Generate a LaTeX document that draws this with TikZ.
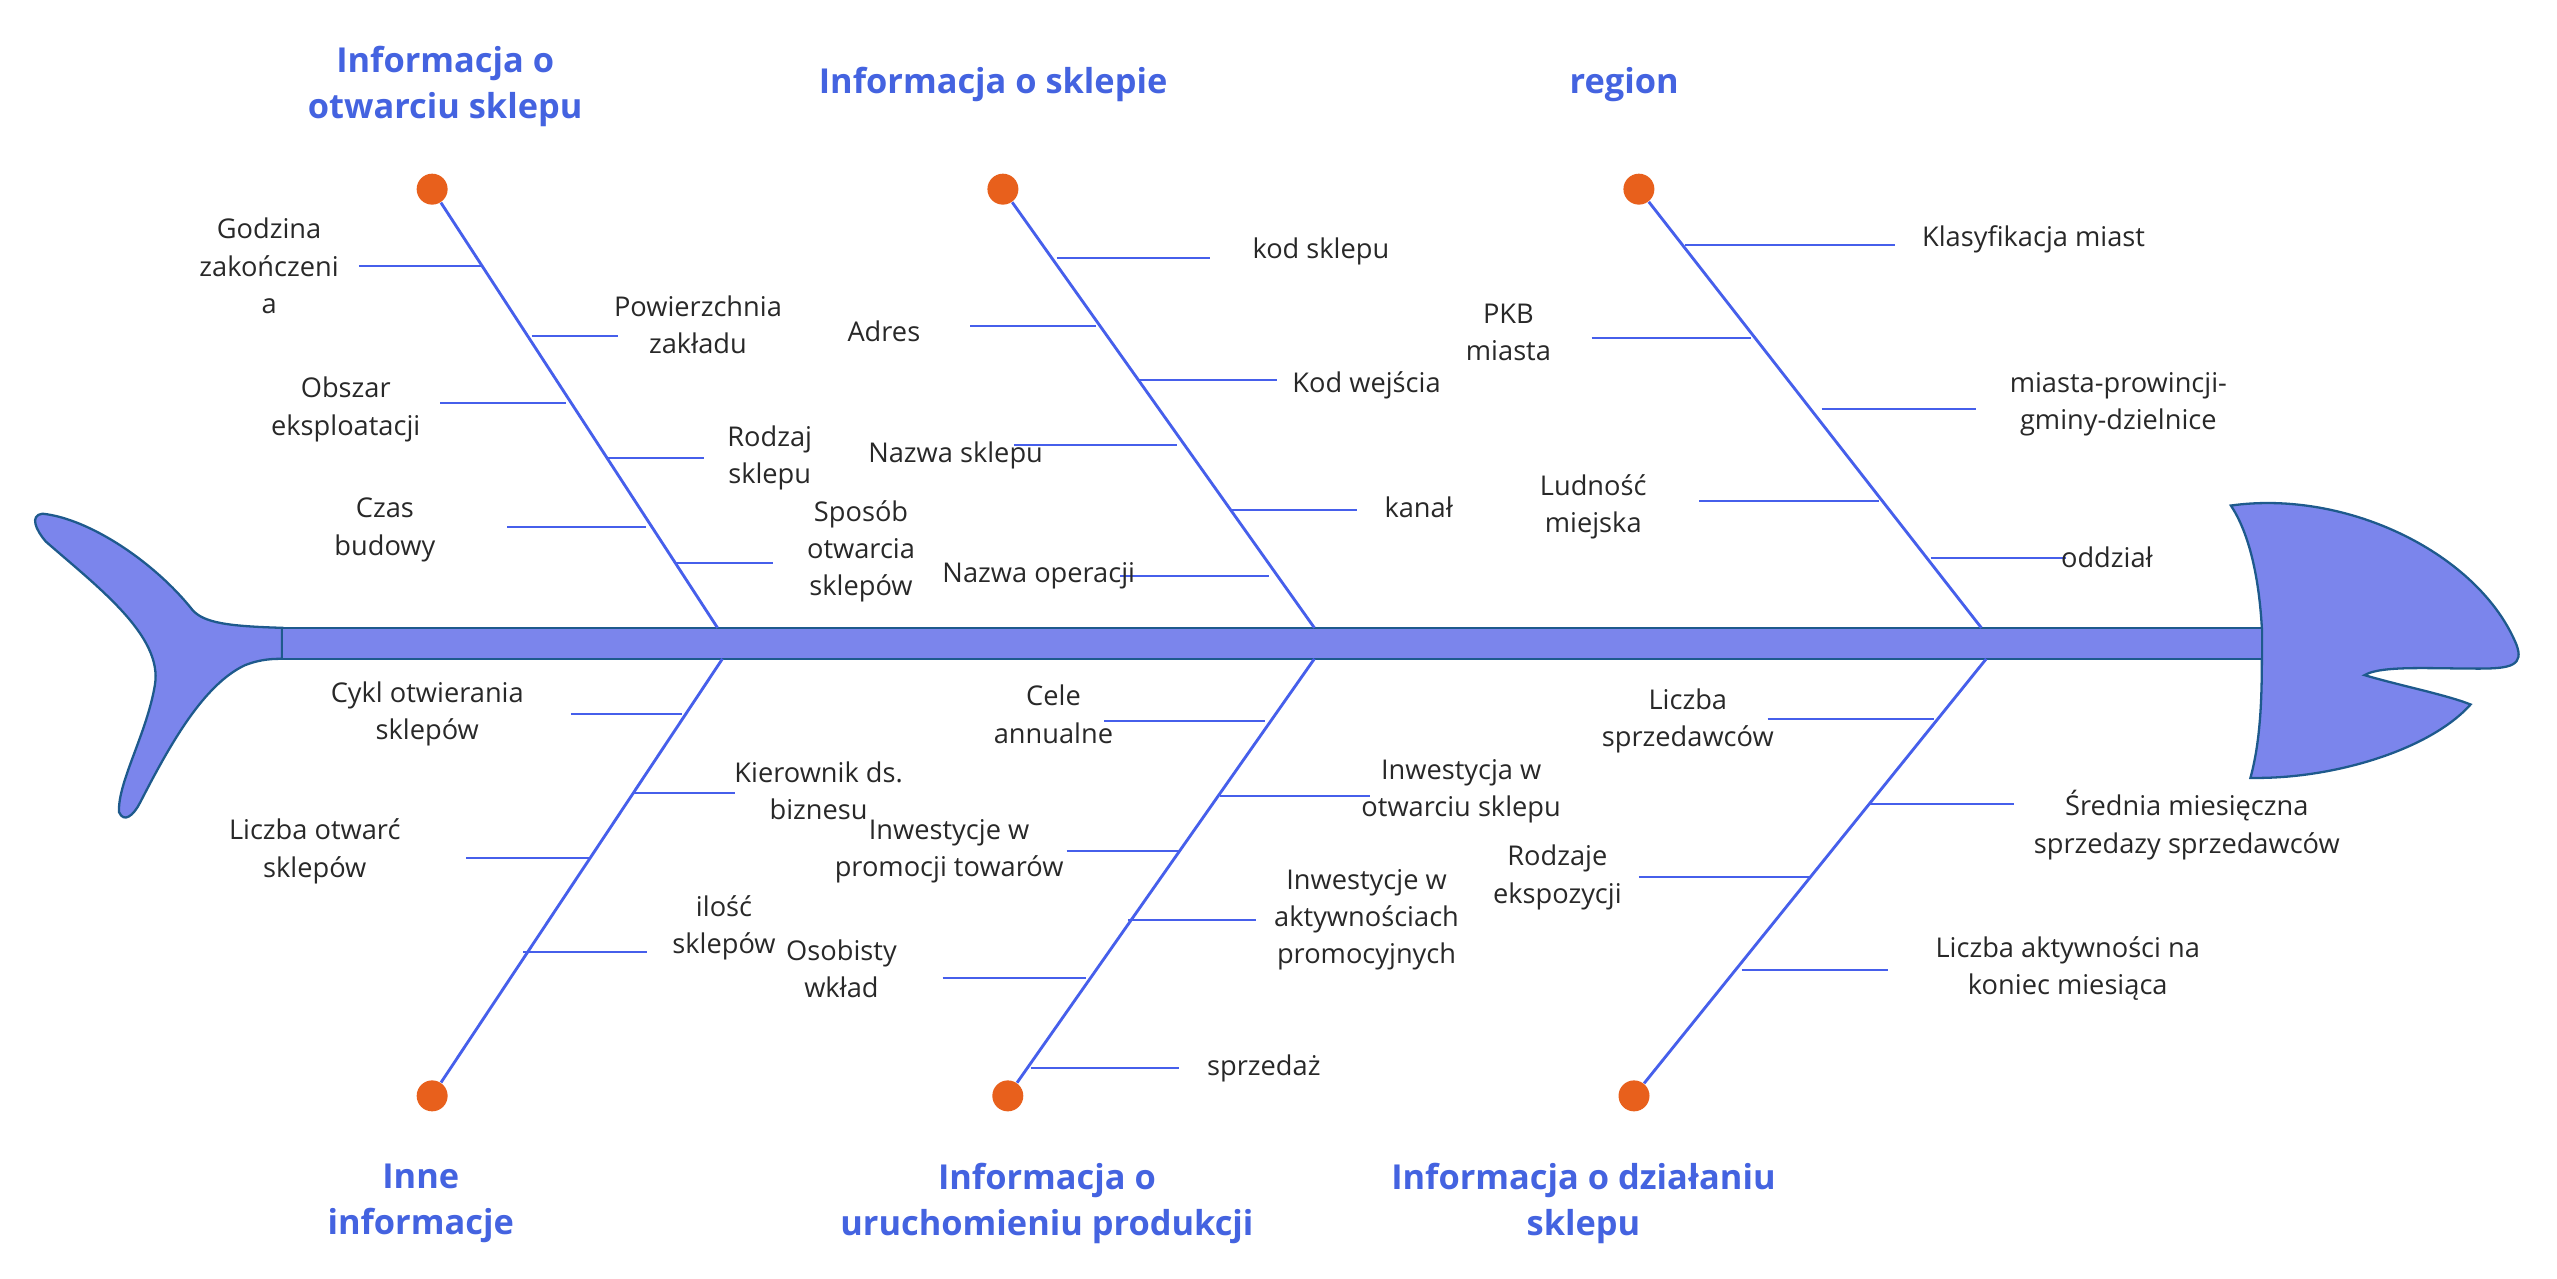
\documentclass[tikz,border=0pt]{standalone}
\usepackage{fontspec}
\setmainfont{Open Sans}
\begin{document}
\begin{tikzpicture}[x=0.02cm,y=-0.02cm,
 bone/.style={draw=blue!70!cyan!60!black,line width=0.9pt,color={rgb,255:red,70;green,95;blue,235}},
 sub/.style={draw={rgb,255:red,70;green,95;blue,235},line width=0.7pt},
 lab/.style={align=center,font=\fontsize{9.5}{13}\selectfont,text={rgb,255:red,40;green,40;blue,40},inner sep=1pt},
 ttl/.style={align=center,font=\fontsize{12}{16}\selectfont\bfseries,text={rgb,255:red,68;green,99;blue,224},inner sep=1pt},
 dot/.style={circle,fill={rgb,255:red,232;green,96;blue,28},minimum size=0.38cm,inner sep=0pt}]
\definecolor{fishf}{RGB}{123,133,236}
\definecolor{fishd}{RGB}{30,90,140}
\useasboundingbox (0,0) rectangle (1568,784);
% tail
\draw[fill=fishf,draw=fishd,line width=0.8pt] (173,385) .. controls (140,384) and (125,382) .. (118,374)
 .. controls (95,345) and (55,318) .. (26,315) .. controls (18,316) and (22,325) .. (28,332)
 .. controls (60,360) and (100,390) .. (95,420) .. controls (90,450) and (72,480) .. (73,498)
 .. controls (76,505) and (82,500) .. (86,492) .. controls (105,455) and (125,420) .. (150,408)
 .. controls (160,404) and (168,404) .. (173,404) -- cycle;
% head
\draw[fill=fishf,draw=fishd,line width=0.8pt] (1387,385) .. controls (1385,350) and (1378,325) .. (1368,310)
 .. controls (1440,300) and (1520,340) .. (1543,395) .. controls (1548,408) and (1540,410) .. (1520,410)
 .. controls (1490,410) and (1460,408) .. (1450,414) .. controls (1470,420) and (1500,426) .. (1515,432)
 .. controls (1490,460) and (1430,478) .. (1380,477) .. controls (1386,455) and (1387,430) .. (1387,404) -- cycle;
% spine
\node[draw=fishd,fill=fishf,line width=0.8pt,minimum width=24.28cm,minimum height=0.38cm,inner sep=0pt] (spine) at (780,394.5) {};
% dots
\node[dot] (d1) at (265,116) {}; \node[dot] (d2) at (615,116) {}; \node[dot] (d3) at (1005,116) {};
\node[dot] (d4) at (265,672) {}; \node[dot] (d5) at (618,672) {}; \node[dot] (d6) at (1002,672) {};
\coordinate (e1) at (440,385); \coordinate (e2) at (806,385); \coordinate (e3) at (1215,385);
\coordinate (e4) at (443,404); \coordinate (e5) at (806,404); \coordinate (e6) at (1218,404);
\foreach \a/\b in {d1/e1,d2/e2,d3/e3,d4/e4,d5/e5,d6/e6}{\draw[sub,line width=1pt] (\a) -- (\b);}
% titles
\node[ttl] (t1) at (273,53) {Informacja o\\otwarciu sklepu};
\node[ttl] (t2) at (609,52) {Informacja o sklepie};
\node[ttl] (t3) at (996,52) {region};
\node[ttl] (t4) at (258,738) {Inne\\informacje};
\node[ttl] (t5) at (642,738) {Informacja o\\uruchomieniu produkcji};
\node[ttl] (t6) at (971,738) {Informacja o działaniu\\sklepu};
% sub branches
\foreach \xa/\xb/\y/\lx/\ly/\t [count=\i] in {
220/296/163/165/163/{Godzina\\zakończeni\\a},
326/379/206/428/199/{Powierzchnia\\zakładu},
270/347/247/212/251/{Obszar\\eksploatacji},
373/432/281/472/281/{Rodzaj\\sklepu},
311/396/323/236/325/{Czas\\budowy},
413/474/345/528/338/{Sposób\\otwarcia\\sklepów},
648/742/158/810/154/{kod sklepu},
595/672/200/542/203/{Adres},
697/783/233/838/236/{Kod wejścia},
622/722/273/586/279/{Nazwa sklepu},
755/832/313/870/311/{kanał},
687/778/353/637/353/{Nazwa operacji},
1033/1162/150/1247/147/{Klasyfikacja miast},
976/1074/207/925/204/{PKB\\miasta},
1117/1212/251/1299/248/{miasta-prowincji-\\gminy-dzielnice},
1042/1152/307/977/311/{Ludność\\miejska},
1184/1267/342/1292/342/{oddział},
350/418/438/262/438/{Cykl otwierania\\sklepów},
388/451/486/502/485/{Kierownik ds.\\biznesu},
286/361/526/193/522/{Liczba otwarć\\sklepów},
321/397/584/444/569/{ilość\\sklepów},
677/776/442/646/438/{Cele\\annualne},
748/840/488/896/485/{Inwestycja w\\otwarciu sklepu},
654/723/522/582/522/{Inwestycje w\\promocji towarów},
692/770/564/838/564/{Inwestycje w\\aktywnościach\\promocyjnych},
578/666/600/516/594/{Osobisty\\wkład},
632/723/655/775/655/{sprzedaż},
1084/1186/441/1035/442/{Liczba\\sprzedawców},
1146/1235/493/1341/506/{Średnia miesięczna\\sprzedazy sprzedawców},
1005/1110/538/955/538/{Rodzaje\\ekspozycji},
1068/1158/595/1268/594/{Liczba aktywności na\\koniec miesiąca}}{
 \coordinate (sa\i) at (\xa,\y); \coordinate (sb\i) at (\xb,\y);
 \draw[sub] (sa\i) -- (sb\i);
 \node[lab] (l\i) at (\lx,\ly) {\t};
}
\end{tikzpicture}
\end{document}
